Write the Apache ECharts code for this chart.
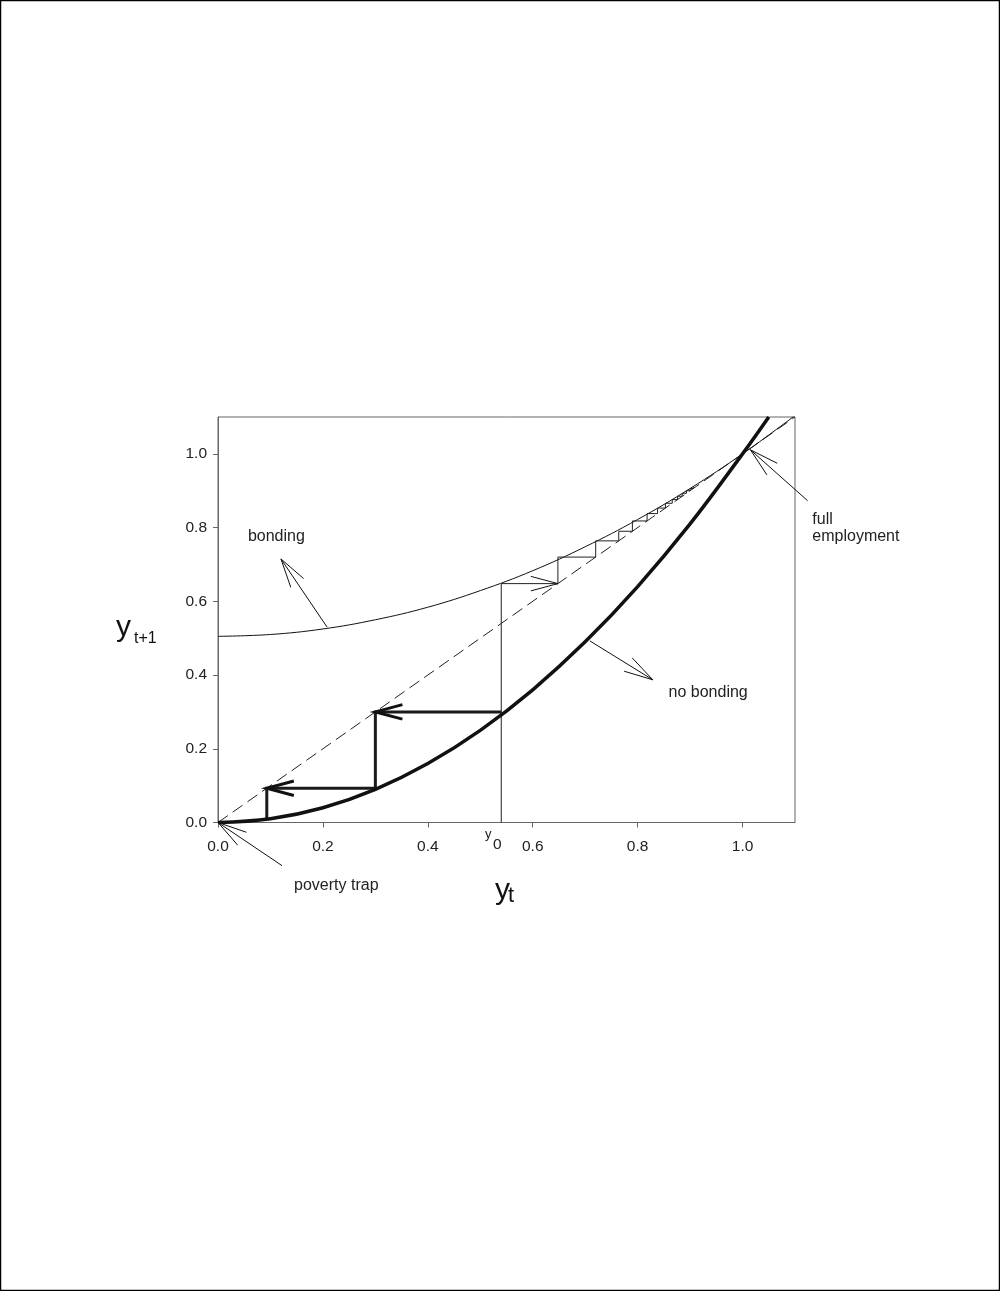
<!DOCTYPE html>
<html><head><meta charset="utf-8">
<script src="https://cdn.jsdelivr.net/npm/echarts@6/dist/echarts.min.js"></script>
<style>html,body{margin:0;padding:0;background:#fff}#c{width:1000px;height:1291px}</style>
</head><body><div id="c"></div>
<script>
// ---- data ----
const xTicks = [0.0, 0.2, 0.4, 0.6, 0.8, 1.0];
const yTicks = [0.0, 0.2, 0.4, 0.6, 0.8, 1.0];

const noBondingX = [0, 0.1, 0.2, 0.3, 0.4, 0.5, 0.6, 0.7, 0.8, 0.9, 1.0, 1.05];
const noBondingY = [0, 0.01, 0.04, 0.09, 0.16, 0.25, 0.36, 0.49, 0.64, 0.81, 1.0, 1.1];

const bondingX = [0, 0.1, 0.2, 0.3, 0.4, 0.5, 0.6, 0.7, 0.8, 0.9, 1.0, 1.1];
const bondingY = [0.505, 0.51, 0.525, 0.55, 0.584, 0.629, 0.683, 0.748, 0.822, 0.906, 1.0, 1.104];

const diagonalX = [0, 1.1];
const diagonalY = [0, 1.1];

// cobweb iterates (y0 first)
const bondingIterates = [0.54, 0.648, 0.72, 0.764, 0.79, 0.818, 0.838, 0.853, 0.866, 0.876, 0.885, 0.893, 0.9, 0.906, 0.911];
const noBondingIterates = [0.54, 0.3, 0.093, 0.01];

// annotation arrows: [tailX, tailY, tipX, tipY]
const annotationArrows = [
  [0.208, 0.530, 0.120, 0.715],   // bonding
  [0.709, 0.4925, 0.829, 0.387],  // no bonding
  [1.124, 0.873, 1.015, 1.011],   // full employment
  [0.122, -0.117, 0.0, 0.0]       // poverty trap
];
const annotationTexts = ['bonding', 'no bonding', 'full', 'employment', 'poverty trap'];
const annotationAnchorX = [0.057, 0.859, 1.133, 1.133, 0.145];
const annotationAnchorY = [0.775, 0.352, 0.823, 0.775, -0.17];

// ---- build ----
const zip = (a, b) => a.map((v, i) => [v, b[i]]);

function cobwebPath(it, fromAxis) {
  const pts = [];
  if (fromAxis) pts.push([it[0], 0]);
  pts.push([it[0], it[1]]);
  for (let i = 1; i + 1 < it.length; i++) {
    pts.push([it[i], it[i]]);
    pts.push([it[i], it[i + 1]]);
  }
  return pts;
}
const bondingPath = cobwebPath(bondingIterates, true);
const noBondingPath = cobwebPath(noBondingIterates, false);

const thinHeads = [[bondingIterates[0], bondingIterates[1], bondingIterates[1], bondingIterates[1]]];
const thickHeads = [
  [noBondingIterates[0], noBondingIterates[1], noBondingIterates[1], noBondingIterates[1]],
  [noBondingIterates[1], noBondingIterates[2], noBondingIterates[2], noBondingIterates[2]]
];

function arrowRender(lw, len, shaft) {
  return function (params, api) {
    const a = api.coord([api.value(0), api.value(1)]);
    const b = api.coord([api.value(2), api.value(3)]);
    const ang = Math.atan2(a[1] - b[1], a[0] - b[0]);
    const s = 15 * Math.PI / 180;
    const h1 = [b[0] + len * Math.cos(ang + s), b[1] + len * Math.sin(ang + s)];
    const h2 = [b[0] + len * Math.cos(ang - s), b[1] + len * Math.sin(ang - s)];
    const st = { stroke: '#111', lineWidth: lw, fill: null };
    const children = [{ type: 'polyline', shape: { points: [h1, b, h2] }, style: st }];
    if (shaft) children.push({ type: 'line', shape: { x1: a[0], y1: a[1], x2: b[0], y2: b[1] }, style: st });
    return { type: 'group', children };
  };
}

const FONT = '"Liberation Sans", Arial, Helvetica, sans-serif';
const textData = annotationTexts.map((t, i) => [annotationAnchorX[i], annotationAnchorY[i], i]);

const axisCommon = {
  type: 'value', min: 0, max: 1.1,
  axisLine: { show: true, lineStyle: { color: '#666', width: 1 } },
  splitLine: { show: false },
};

const chart = echarts.init(document.getElementById('c'), null, { renderer: 'canvas' });
chart.setOption({
  animation: false,
  backgroundColor: '#fff',
  grid: { left: 218, top: 417, width: 577, height: 405.5, show: true, borderColor: '#666', borderWidth: 1, backgroundColor: 'transparent' },
  xAxis: Object.assign({}, axisCommon, {
    axisTick: { show: true, customValues: xTicks, length: 5, lineStyle: { color: '#666' } },
    axisLabel: { customValues: xTicks, formatter: v => v.toFixed(1), fontSize: 15.5, color: '#222', fontFamily: FONT, margin: 16 }
  }),
  yAxis: Object.assign({}, axisCommon, {
    axisTick: { show: true, customValues: yTicks, length: 5, lineStyle: { color: '#666' } },
    axisLabel: { customValues: yTicks, formatter: v => v.toFixed(1), fontSize: 15.5, color: '#222', fontFamily: FONT, margin: 11 }
  }),
  graphic: [
    { type: 'rect', shape: { x: 0.5, y: 0.5, width: 999, height: 1290 }, style: { fill: null, stroke: '#000', lineWidth: 1.5 }, silent: true },
    { type: 'text', x: 116, y: 628, style: { text: 'y', font: '30px ' + FONT, fill: '#111', verticalAlign: 'middle', align: 'left' } },
    { type: 'text', x: 134, y: 639, style: { text: 't+1', font: '16px ' + FONT, fill: '#111', verticalAlign: 'middle', align: 'left' } },
    { type: 'text', x: 495, y: 891, style: { text: 'y', font: '30px ' + FONT, fill: '#111', verticalAlign: 'middle', align: 'left' } },
    { type: 'text', x: 508, y: 896, style: { text: 't', font: '22px ' + FONT, fill: '#111', verticalAlign: 'middle', align: 'left' } },
    { type: 'text', x: 485, y: 834, style: { text: 'y', font: '13px ' + FONT, fill: '#222', verticalAlign: 'middle', align: 'left' } },
    { type: 'text', x: 493, y: 845, style: { text: '0', font: '15.5px ' + FONT, fill: '#222', verticalAlign: 'middle', align: 'left' } }
  ],
  series: [
    { type: 'line', data: zip(diagonalX, diagonalY), showSymbol: false, lineStyle: { color: '#222', width: 1, type: [12, 6] }, z: 2 },
    { type: 'line', data: zip(bondingX, bondingY), smooth: 0.4, showSymbol: false, lineStyle: { color: '#111', width: 1 }, z: 3 },
    { type: 'line', data: bondingPath, showSymbol: false, lineStyle: { color: '#222', width: 1 }, z: 3 },
    { type: 'line', data: noBondingPath, showSymbol: false, lineStyle: { color: '#1a1a1a', width: 3, join: 'miter' }, z: 4 },
    { type: 'line', data: zip(noBondingX, noBondingY), smooth: 0.4, showSymbol: false, lineStyle: { color: '#111', width: 3.5 }, z: 5 },
    { type: 'custom', data: thinHeads, renderItem: arrowRender(1, 28, false), z: 6 },
    { type: 'custom', data: thickHeads, renderItem: arrowRender(3, 28, false), z: 6 },
    { type: 'custom', data: annotationArrows, renderItem: arrowRender(1, 30, true), z: 6 },
    { type: 'custom', data: textData, z: 7,
      renderItem: function (params, api) {
        const p = api.coord([api.value(0), api.value(1)]);
        return { type: 'text', x: p[0], y: p[1],
          style: { text: annotationTexts[api.value(2)], font: '16px ' + FONT, fill: '#222', align: 'left', verticalAlign: 'middle' } };
      } }
  ]
});
</script></body></html>
